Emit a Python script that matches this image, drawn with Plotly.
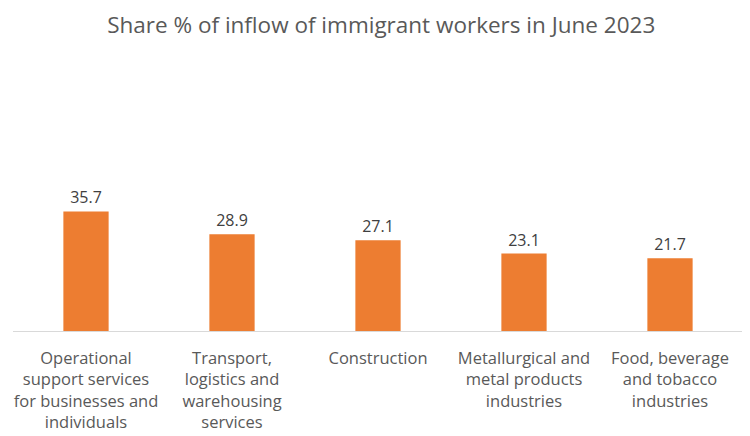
import plotly.graph_objects as go

categories = [
    "Operational<br>support services<br>for businesses and<br>individuals",
    "Transport,<br>logistics and<br>warehousing<br>services",
    "Construction",
    "Metallurgical and<br>metal products<br>industries",
    "Food, beverage<br>and tobacco<br>industries",
]
values = [35.7, 28.9, 27.1, 23.1, 21.7]
value_labels = ["35.7", "28.9", "27.1", "23.1", "21.7"]
title_text = "Share % of inflow of immigrant workers in June 2023"

FONT = "Open Sans"

fig = go.Figure(
    go.Bar(
        x=list(range(len(categories))),
        y=values,
        text=value_labels,
        textposition="outside",
        textfont=dict(family=FONT, size=16, color="#404040"),
        marker=dict(color="#ED7D31", line=dict(width=0)),
        width=0.31,
        cliponaxis=False,
    )
)

fig.update_layout(
    width=742,
    height=428,
    margin=dict(l=5, r=7, t=189, b=105, autoexpand=False),
    paper_bgcolor="white",
    plot_bgcolor="white",
    showlegend=False,
    title=dict(
        text=title_text,
        x=0.503,
        xanchor="center",
        y=0.961,
        yanchor="middle",
        font=dict(family=FONT, size=22.5, color="#595959"),
    ),
    xaxis=dict(
        tickmode="array",
        tickvals=list(range(len(categories))),
        ticktext=categories,
        range=[-0.5, len(categories) - 0.5],
        showgrid=False,
        showline=True,
        linecolor="#D9D9D9",
        linewidth=1,
        ticks="",
        automargin=False,
        ticklabelstandoff=12,
        tickfont=dict(family=FONT, size=16.5, color="#595959"),
        zeroline=False,
    ),
    yaxis=dict(
        range=[0, 40],
        visible=False,
        showgrid=False,
        zeroline=False,
        automargin=False,
    ),
)

fig.write_html("out.html")
